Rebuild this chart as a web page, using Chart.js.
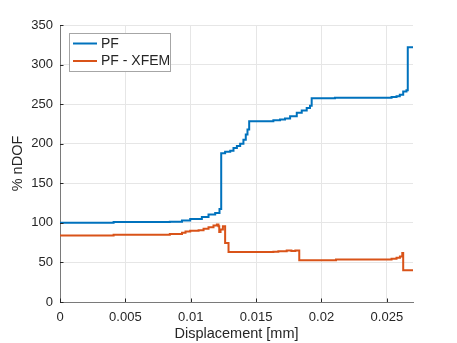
<!DOCTYPE html>
<html>
<head>
<meta charset="utf-8">
<script src="https://cdn.jsdelivr.net/npm/chart.js@4"></script>
<style>
  body { margin: 0; background: #fff; }
  canvas { display: block; }
</style>
</head>
<body>
<canvas id="canvas" width="457" height="343"></canvas>
<script>
  // step data: each value holds from its x onward
  const pfX = [0, 0.0041, 0.0084, 0.00933, 0.00996, 0.01085, 0.01136, 0.01187, 0.0122,
    0.01233, 0.01263, 0.01302, 0.01327, 0.01353, 0.01378, 0.01403, 0.01421, 0.01434, 0.01447,
    0.01632, 0.01683, 0.01721, 0.0176, 0.01811, 0.01849, 0.01887, 0.01912, 0.01925,
    0.02103, 0.02536, 0.02574, 0.02599, 0.02625, 0.0265, 0.0266, 0.027];
  const pfY = [100, 101, 101.5, 103, 105, 107.5, 110.5, 112.6, 117.5,
    188, 190, 191, 194.5, 197, 200, 205, 211.5, 218, 228.3,
    229.5, 230.5, 232, 234.6, 239, 242, 245, 248, 257.3,
    258, 259, 260, 262, 266, 267.5, 322, 322];

  const xfemX = [0, 0.0041, 0.0084, 0.00933, 0.0096, 0.00996, 0.0106, 0.01098, 0.01136, 0.01174,
    0.012, 0.01212, 0.01218, 0.01228, 0.01246, 0.01263, 0.01289,
    0.01632, 0.0167, 0.01734, 0.0177, 0.018, 0.0183,
    0.02111, 0.02536, 0.02574, 0.026, 0.02618, 0.02625, 0.027];
  const xfemY = [84, 85, 86, 87.5, 89, 90, 90.7, 92.4, 94.5, 96.6,
    97.9, 95.7, 88.6, 91.5, 95.7, 74.7, 63.3,
    63.5, 64, 65, 64.3, 65.2, 52.8,
    53.8, 54.5, 56, 57.5, 62, 40, 40];

  const xTicks = [0, 0.005, 0.01, 0.015, 0.02, 0.025];
  const yTicks = [0, 50, 100, 150, 200, 250, 300, 350];
  const seriesNames = ["PF", "PF - XFEM"];

  const colors = {
    blue: "#0072BD",
    orange: "#D95319",
    text: "#262626",
    axis: "#7a7a7a",
    grid: "#e6e6e6"
  };
  const fontFamily = "'Liberation Sans', Arial, Helvetica, sans-serif";

  const toPoints = (xs, ys) => xs.map((x, i) => ({ x: x, y: ys[i] }));

  // inward tick marks + legend box inside the axes, matlab style
  const matlabBits = {
    id: "matlabBits",
    afterDraw(chart) {
      const ctx = chart.ctx;
      const area = chart.chartArea;
      const xs = chart.scales.x, ys = chart.scales.y;
      ctx.save();
      ctx.strokeStyle = colors.text;
      ctx.lineWidth = 1;
      ctx.beginPath();
      xTicks.forEach(v => {
        const px = Math.round(xs.getPixelForValue(v)) + 0.5;
        ctx.moveTo(px, area.bottom);
        ctx.lineTo(px, area.bottom - 3.5);
      });
      yTicks.forEach(v => {
        const py = Math.round(ys.getPixelForValue(v)) + 0.5;
        ctx.moveTo(area.left, py);
        ctx.lineTo(area.left + 3.5, py);
      });
      ctx.stroke();

      // legend
      const lx = area.left + 9.5, ly = area.top + 8.5;
      const lw = 101, lh = 38;
      ctx.fillStyle = "#fff";
      ctx.fillRect(lx, ly, lw, lh);
      ctx.strokeStyle = "#a6a6a6";
      ctx.strokeRect(lx, ly, lw, lh);
      const rows = [ly + 10, ly + 27.5];
      const cols = [colors.blue, colors.orange];
      ctx.font = "14px " + fontFamily;
      ctx.textBaseline = "middle";
      ctx.textAlign = "left";
      seriesNames.forEach((name, i) => {
        ctx.strokeStyle = cols[i];
        ctx.lineWidth = 2;
        ctx.beginPath();
        ctx.moveTo(lx + 3.5, rows[i]);
        ctx.lineTo(lx + 27.5, rows[i]);
        ctx.stroke();
        ctx.fillStyle = colors.text;
        ctx.fillText(name, lx + 31.5, rows[i] + 0.5);
      });
      ctx.restore();
    }
  };

  const ctx = document.getElementById("canvas").getContext("2d");

  const options = {
    type: "line",
    data: {
      datasets: [
        {
          label: seriesNames[0],
          data: toPoints(pfX, pfY),
          borderColor: colors.blue,
          borderWidth: 2,
          stepped: true,
          pointRadius: 0,
          fill: false
        },
        {
          label: seriesNames[1],
          data: toPoints(xfemX, xfemY),
          borderColor: colors.orange,
          borderWidth: 2,
          stepped: true,
          pointRadius: 0,
          fill: false
        }
      ]
    },
    options: {
      responsive: false,
      animation: false,
      layout: {
        padding: { left: 0, right: 44, top: 25, bottom: 0 }
      },
      scales: {
        x: {
          type: "linear",
          min: 0,
          max: 0.027,
          afterBuildTicks: scale => { scale.ticks = xTicks.map(v => ({ value: v })); },
          afterFit: scale => { scale.height = 41; },
          grid: { color: colors.grid, drawTicks: false },
          border: { color: colors.axis, width: 1 },
          ticks: {
            padding: 8,
            color: colors.text,
            font: { family: fontFamily, size: 13 },
            maxRotation: 0,
            callback: v => String(v)
          },
          title: {
            display: true,
            text: "Displacement [mm]",
            color: colors.text,
            font: { family: fontFamily, size: 14.5 },
            padding: { top: 0, bottom: 0 }
          }
        },
        y: {
          min: 0,
          max: 350,
          afterBuildTicks: scale => { scale.ticks = yTicks.map(v => ({ value: v })); },
          afterFit: scale => { scale.width = 60; },
          grid: { color: colors.grid, drawTicks: false },
          border: { color: colors.axis, width: 1 },
          ticks: {
            padding: 7,
            color: colors.text,
            font: { family: fontFamily, size: 13 }
          },
          title: {
            display: true,
            text: "% nDOF",
            color: colors.text,
            font: { family: fontFamily, size: 14.5 },
            padding: { top: 9, bottom: 0 }
          }
        }
      },
      plugins: {
        legend: { display: false },
        tooltip: { enabled: false }
      }
    },
    plugins: [matlabBits]
  };

  window.myLine = new Chart(ctx, options);
</script>
</body>
</html>
